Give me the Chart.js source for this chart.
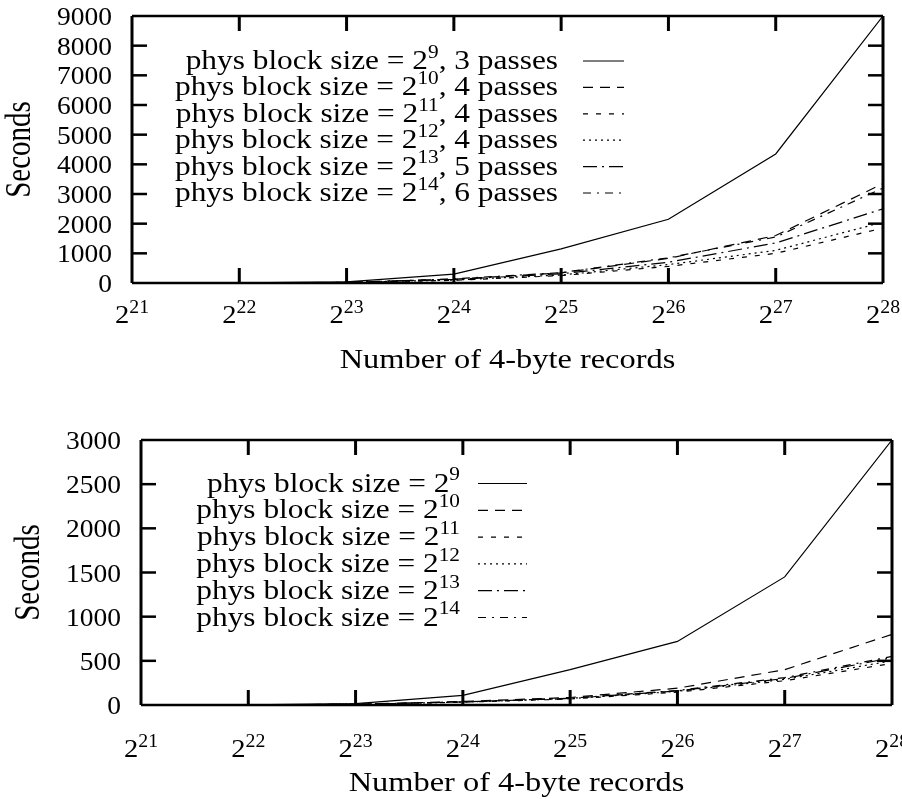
<!DOCTYPE html>
<html>
<head>
<meta charset="utf-8">
<title>Sort time vs. number of records</title>
<script src="https://cdn.jsdelivr.net/npm/chart.js@4.4.1/dist/chart.umd.min.js"></script>
<style>
  html, body { margin: 0; padding: 0; background: #fff; }
  #wrap { position: relative; width: 902px; height: 799px; overflow: hidden; }
  canvas { position: absolute; left: 0; }
  #passesChart { top: 0; }
  #blockChart { top: 400px; }
</style>
</head>
<body>
<div id="wrap">
  <canvas id="passesChart" width="902" height="400"></canvas>
  <canvas id="blockChart" width="902" height="399"></canvas>
</div>
<script>
// ================= DATA =================
// x axis: number of 4-byte records = 2^n
const exponents = [21, 22, 23, 24, 25, 26, 27, 28];
const blockExps = [9, 10, 11, 12, 13, 14];
const passCounts = [3, 4, 4, 4, 5, 6];

// seconds, number of passes grows with block size
const passes9  = [2, 8, 35, 300, 1150, 2150, 4350, 9000];
const passes10 = [1, 5, 20, 130, 340, 830, 1600, 3350];
const passes11 = [1, 4, 15, 90, 250, 560, 1000, 1850];
const passes12 = [1, 4, 16, 100, 270, 620, 1100, 2050];
const passes13 = [1, 5, 18, 120, 310, 700, 1350, 2500];
const passes14 = [1, 5, 20, 140, 350, 850, 1550, 3200];

// seconds, one phys block size per line
const block9  = [1, 3, 15, 110, 400, 720, 1450, 3000];
const block10 = [1, 2, 8, 40, 85, 190, 400, 800];
const block11 = [1, 2, 7, 32, 68, 145, 275, 470];
const block12 = [1, 2, 7, 34, 72, 155, 290, 500];
const block13 = [1, 2, 7, 35, 75, 160, 300, 535];
const block14 = [1, 2, 7, 36, 76, 165, 310, 550];

const yTicksTop = [0, 1000, 2000, 3000, 4000, 5000, 6000, 7000, 8000, 9000];
const yTicksBottom = [0, 500, 1000, 1500, 2000, 2500, 3000];

// ================= STYLE =================
const FONT = '"Liberation Serif", "Times New Roman", serif';
const SX = 1.2;        // text is drawn a little wide
const TICK = 15;
const dashStyles = [[], [10, 7], [5, 8], [2, 4], [14, 5, 2, 5], [8, 6, 2, 6]];

// draws text made of plain and superscript parts
function drawRich(ctx, parts, x, y, align, size, sx = SX) {
  const supSize = Math.round(size * 0.68);
  let total = 0;
  parts.forEach(p => {
    ctx.font = `${p.sup ? supSize : size}px ${FONT}`;
    p.w = ctx.measureText(p.t).width;
    total += p.w;
  });
  let start = x;
  if (align === "right") start = x - total * sx;
  if (align === "center") start = x - total * sx / 2;

  ctx.save();
  ctx.translate(start, y);
  ctx.scale(sx, 1);
  ctx.fillStyle = "#000";
  ctx.textAlign = "left";
  ctx.textBaseline = "alphabetic";
  let cx = 0;
  parts.forEach(p => {
    ctx.font = `${p.sup ? supSize : size}px ${FONT}`;
    ctx.fillText(p.t, cx, p.sup ? -size * 0.4 : 0);
    cx += p.w;
  });
  ctx.restore();
}

function line(ctx, x1, y1, x2, y2) {
  ctx.beginPath();
  ctx.moveTo(x1, y1);
  ctx.lineTo(x2, y2);
  ctx.stroke();
}

// frame, inward ticks, labels and key, gnuplot style
function framePlugin(cfg) {
  return {
    id: "frame",
    afterDraw(chart) {
      const ctx = chart.ctx;
      const { left, right, top, bottom } = chart.chartArea;
      const xs = chart.scales.x;
      const ys = chart.scales.y;
      ctx.save();
      ctx.strokeStyle = "#000";
      ctx.setLineDash([]);

      // x ticks + 2^n labels
      ctx.lineWidth = 3;
      exponents.forEach((e, i) => {
        const px = xs.getPixelForValue(i);
        if (i > 0 && i < exponents.length - 1) {
          line(ctx, px, bottom, px, bottom - TICK);
          line(ctx, px, top, px, top + TICK);
        }
        drawRich(ctx, [{ t: "2" }, { t: String(e), sup: true }], px, bottom + cfg.xLabelOffset, "center", 26, 1.1);
      });

      // y ticks + labels
      ctx.lineWidth = 2.5;
      cfg.yTicks.forEach(v => {
        const py = ys.getPixelForValue(v);
        if (v > cfg.yTicks[0] && v < cfg.yTicks[cfg.yTicks.length - 1]) {
          line(ctx, left, py, left + TICK, py);
          line(ctx, right, py, right - TICK, py);
        }
        drawRich(ctx, [{ t: String(v) }], left - 20, py + 9, "right", 25, 1.1);
      });

      // border
      ctx.lineWidth = 3;
      line(ctx, left, top, left, bottom);
      line(ctx, right, top, right, bottom);
      ctx.lineWidth = 2.5;
      line(ctx, left, top, right, top);
      line(ctx, left, bottom, right, bottom);

      // axis titles
      drawRich(ctx, [{ t: "Number of 4-byte records" }], (left + right) / 2, cfg.xTitleY, "center", 27);
      ctx.save();
      ctx.translate(cfg.yTitleX, (top + bottom) / 2);
      ctx.scale(SX, 1);
      ctx.rotate(-Math.PI / 2);
      ctx.font = `29px ${FONT}`;
      ctx.fillStyle = "#000";
      ctx.textAlign = "center";
      ctx.textBaseline = "middle";
      ctx.fillText("Seconds", 0, 0);
      ctx.restore();

      // key
      chart.data.datasets.forEach((ds, i) => {
        const ly = cfg.keyTop + i * cfg.keyStep;
        drawRich(ctx, cfg.keyText(i), cfg.keyTextRight, ly + 8, "right", 28, 1.12);
        ctx.lineWidth = ds.borderWidth;
        ctx.setLineDash(ds.borderDash);
        line(ctx, cfg.keyLine[0], ly, cfg.keyLine[1], ly);
        ctx.setLineDash([]);
      });
      ctx.restore();
    }
  };
}

function makeChart(id, series, yMax, padding, cfg) {
  const ctx = document.getElementById(id).getContext("2d");
  return new Chart(ctx, {
    type: "line",
    data: {
      labels: exponents,
      datasets: series.map((s, i) => ({
        data: s,
        borderColor: "#000",
        borderWidth: 1.2,
        borderDash: dashStyles[i],
        pointRadius: 0,
        tension: 0,
        fill: false
      }))
    },
    options: {
      responsive: false,
      animation: false,
      devicePixelRatio: 1,
      layout: { padding: padding },
      plugins: {
        legend: { display: false },
        tooltip: { enabled: false }
      },
      scales: {
        x: { type: "category", display: false, offset: false },
        y: { type: "linear", display: false, min: 0, max: yMax }
      }
    },
    plugins: [framePlugin(cfg)]
  });
}

// ================= CHARTS =================
makeChart("passesChart",
  [passes9, passes10, passes11, passes12, passes13, passes14],
  9000,
  { left: 132, top: 16, right: 19, bottom: 117 },
  {
    yTicks: yTicksTop,
    xLabelOffset: 40,
    xTitleY: 368,
    yTitleX: 21,
    keyTop: 61,
    keyStep: 26.4,
    keyTextRight: 558,
    keyLine: [583, 624],
    keyText: i => [
      { t: "phys block size = 2" },
      { t: String(blockExps[i]), sup: true },
      { t: ", " + passCounts[i] + " passes" }
    ]
  });

makeChart("blockChart",
  [block9, block10, block11, block12, block13, block14],
  3000,
  { left: 141, top: 40, right: 10, bottom: 94 },
  {
    yTicks: yTicksBottom,
    xLabelOffset: 52,
    xTitleY: 391,
    yTitleX: 30,
    keyTop: 83.5,
    keyStep: 26.8,
    keyTextRight: 460,
    keyLine: [478, 527],
    keyText: i => [
      { t: "phys block size = 2" },
      { t: String(blockExps[i]), sup: true }
    ]
  });
</script>
</body>
</html>
